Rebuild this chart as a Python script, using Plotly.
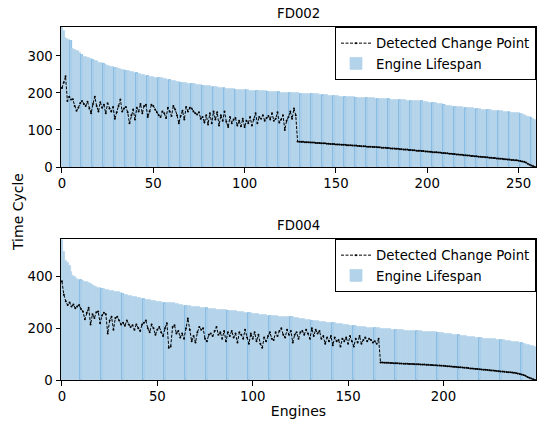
import plotly.graph_objects as go
from plotly.subplots import make_subplots

# ---------------- data ----------------
fd002_lifespan = [
    378, 367, 349, 345, 343, 341, 318, 316, 314, 312,
    308, 303, 298, 297, 295, 293, 291, 290, 287, 285,
    282, 281, 280, 278, 275, 273, 272, 270, 269, 268,
    267, 265, 264, 262, 261, 260, 259, 258, 257, 256,
    255, 254, 252, 250, 249, 248, 246, 245, 244, 243,
    242, 241, 240, 240, 239, 239, 238, 237, 235, 234,
    233, 232, 231, 230, 229, 228, 227, 227, 226, 225,
    225, 224, 223, 223, 222, 222, 221, 220, 219, 219,
    218, 218, 217, 217, 216, 215, 214, 213, 212, 212,
    211, 211, 210, 210, 210, 209, 209, 208, 208, 208,
    207, 207, 207, 206, 206, 206, 205, 205, 205, 205,
    204, 204, 204, 203, 203, 203, 202, 202, 202, 202,
    201, 201, 201, 200, 200, 200, 200, 199, 199, 199,
    198, 198, 198, 197, 197, 197, 197, 196, 196, 196,
    196, 195, 195, 195, 194, 194, 193, 193, 192, 192,
    191, 191, 190, 190, 190, 189, 189, 189, 188, 188,
    188, 187, 187, 187, 186, 186, 186, 186, 185, 185,
    185, 185, 184, 184, 184, 184, 184, 183, 183, 183,
    182, 182, 182, 181, 181, 181, 180, 180, 180, 179,
    179, 179, 178, 178, 178, 178, 177, 177, 176, 175,
    175, 174, 174, 173, 173, 172, 171, 170, 169, 168,
    167, 166, 165, 164, 163, 163, 162, 162, 161, 161,
    160, 160, 159, 159, 158, 158, 157, 157, 156, 156,
    155, 155, 154, 154, 153, 153, 152, 152, 151, 151,
    150, 150, 149, 149, 148, 148, 147, 147, 146, 146,
    145, 144, 142, 140, 138, 136, 134, 132, 130, 128,
]

fd002_change = [
    213, 228, 245, 178, 190, 182, 183, 165, 152, 160,
    172, 178, 170, 165, 176, 158, 145, 170, 190, 165,
    150, 175, 160, 168, 145, 172, 158, 150, 162, 130,
    148, 165, 182, 150, 158, 162, 148, 118, 140, 155,
    128, 160, 150, 170, 145, 165, 168, 135, 150, 168,
    165, 155, 148, 140, 135, 150, 145, 132, 160, 150,
    138, 165, 155, 140, 118, 138, 152, 128, 162, 150,
    160, 158, 150, 145, 142, 148, 130, 135, 120, 140,
    115, 145, 118, 150, 128, 148, 112, 140, 125, 150,
    122, 108, 135, 118, 128, 132, 112, 125, 110, 130,
    108, 125, 118, 135, 112, 128, 145, 118, 135, 130,
    140, 125, 132, 138, 128, 145, 125, 130, 148, 120,
    128, 140, 100, 125, 135, 150, 130, 158, 140,
    69, 68,
    68, 68, 67, 67, 67, 66, 66, 66, 65, 65,
    65, 64, 64, 64, 63, 63, 62, 62, 62, 61,
    61, 61, 60, 60, 60, 59, 59, 59, 58, 58,
    58, 57, 57, 56, 56, 56, 55, 55, 55, 54,
    54, 54, 53, 53, 52, 52, 52, 51, 51, 50,
    50, 50, 49, 49, 48, 48, 47, 47, 47, 46,
    46, 45, 45, 44, 44, 44, 43, 43, 42, 42,
    41, 41, 40, 40, 40, 39, 39, 38, 38, 37,
    37, 36, 36, 35, 35, 34, 34, 33, 33, 32,
    32, 31, 31, 30, 30, 29, 29, 28, 28, 27,
    27, 26, 26, 25, 25, 24, 24, 23, 23, 22,
    22, 21, 21, 20, 20, 19, 19, 18, 18, 17,
    16, 15, 14, 12, 9, 6, 4, 2, 0,
]

fd004_lifespan = [
    543, 494, 462, 453, 440, 417, 402, 399, 392, 388, 386,
    382, 380, 378, 376, 372, 368, 364, 360, 358, 356,
    354, 352, 350, 348, 346, 344, 343, 342, 341, 340,
    337, 334, 330, 328, 326, 324, 322, 321, 320, 318,
    316, 314, 312, 311, 310, 308, 306, 305, 304, 303,
    302, 301, 300, 300, 299, 299, 298, 298, 297, 296,
    294, 292, 290, 288, 287, 286, 285, 284, 283, 282,
    282, 281, 280, 279, 278, 277, 276, 275, 274, 274,
    273, 272, 272, 271, 270, 270, 269, 268, 268, 267,
    266, 265, 264, 263, 262, 261, 260, 259, 258, 257,
    256, 255, 254, 253, 252, 251, 250, 249, 249, 248,
    247, 246, 246, 245, 245, 244, 244, 243, 243, 243,
    243, 242, 241, 240, 238, 236, 235, 234, 232, 231,
    230, 229, 228, 227, 226, 225, 224, 223, 222, 221,
    221, 220, 219, 218, 217, 216, 215, 214, 213, 212,
    211, 210, 209, 208, 207, 206, 205, 204, 204, 203,
    203, 202, 202, 201, 201, 200, 199, 199, 198, 197,
    197, 196, 195, 195, 194, 193, 193, 192, 192, 191,
    191, 191, 190, 190, 189, 189, 188, 188, 187, 187,
    186, 186, 185, 185, 184, 184, 183, 183, 182, 181,
    180, 179, 178, 177, 176, 175, 174, 173, 172, 171,
    170, 169, 168, 167, 166, 165, 164, 163, 162, 161,
    160, 160, 159, 159, 158, 158, 157, 156, 155, 155,
    154, 153, 152, 151, 150, 149, 148, 147, 146, 145,
    143, 141, 139, 137, 135, 133, 130, 128,
]

fd004_change = [
    382, 330, 305, 290, 300, 285, 292, 278, 285, 290, 275,
    265, 235, 260, 280, 215, 255, 240, 262, 265, 220,
    250, 260, 255, 180, 230, 245, 195, 240, 245, 230,
    215, 222, 210, 230, 215, 205, 212, 195, 215, 200,
    190, 215, 222, 230, 200, 185, 215, 200, 175, 195,
    205, 185, 170, 200, 220, 125, 130, 205, 212, 180,
    190, 165, 180, 160, 200, 238, 195, 150, 170, 145,
    185, 205, 195, 200, 160, 150, 175, 180, 170, 190,
    205, 175, 185, 160, 190, 150, 185, 170, 190, 165,
    180, 145, 185, 175, 160, 195, 165, 140, 180, 160,
    185, 150, 175, 140, 125, 165, 150, 170, 185, 160,
    155, 185, 170, 190, 200, 175, 165, 195, 175, 190,
    145, 175, 185, 160, 185, 190, 175, 195, 180, 160,
    200, 170, 195, 180, 190, 160, 170, 140, 165, 150,
    170, 135, 165, 150, 155, 130, 160, 150, 165, 140,
    170, 150, 130, 160, 145, 170, 140, 155, 165, 150,
    160, 155, 145, 150, 140, 160,
    68, 68, 67, 67,
    67, 66, 66, 65, 65, 65, 64, 64, 63, 63,
    63, 62, 62, 62, 61, 61, 61, 60, 60, 60,
    59, 59, 58, 58, 57, 57, 56, 56, 55, 55,
    54, 53, 53, 52, 51, 51, 50, 49, 49, 48,
    47, 47, 46, 45, 45, 44, 43, 43, 42, 41,
    40, 40, 39, 38, 37, 37, 36, 35, 34, 33,
    33, 32, 31, 30, 30, 29, 28, 27, 25, 23,
    21, 19, 16, 12, 9, 6, 3, 0,
]

titles = ["FD002", "FD004"]
x_ticks_top = [0, 50, 100, 150, 200, 250]
x_ticks_bottom = [0, 50, 100, 150, 200]
y_ticks_top = [0, 100, 200, 300]
y_ticks_bottom = [0, 200, 400]

# ---------------- styling ----------------
FONT = "DejaVu Sans"
FS = 13.3
FS_LABEL = 14
BAR_FILL = "#b3d3ea"
BAR_EDGE = "#6aaadc"

fig = make_subplots(rows=2, cols=1, vertical_spacing=0.2)

def add_panel(row, life, change, edge_step, legend_name):
    n = len(life)
    xs = list(range(n))
    edge_colors = [BAR_EDGE if (i % edge_step == edge_step - 1) else BAR_FILL for i in xs]
    fig.add_trace(go.Bar(
        x=xs, y=life, width=1.0, name="Engine Lifespan",
        marker=dict(color=BAR_FILL, line=dict(color=edge_colors, width=0.7)),
        legend=legend_name, legendrank=2,
    ), row=row, col=1)
    fig.add_trace(go.Scatter(
        x=xs, y=change, name="Detected Change Point", mode="lines+markers",
        line=dict(color="black", width=1, dash="3px,1.5px"),
        marker=dict(color="black", size=2),
        legend=legend_name, legendrank=1,
    ), row=row, col=1)

add_panel(1, fd002_lifespan, fd002_change, 6, "legend")
add_panel(2, fd004_lifespan, fd004_change, 11, "legend2")

axis_common = dict(
    showline=True, linecolor="black", linewidth=1, mirror=True,
    ticks="outside", ticklen=4.5, tickwidth=1, tickcolor="black",
    showgrid=False, zeroline=False,
    tickfont=dict(family=FONT, size=FS, color="black"),
)

top_y0 = (380 - 167) / 353
bot_y1 = (380 - 239) / 353

fig.update_xaxes(**axis_common)
fig.update_yaxes(**axis_common)
fig.update_layout(
    xaxis=dict(range=[-0.5, len(fd002_lifespan) - 0.5], tickvals=x_ticks_top),
    xaxis2=dict(range=[-0.5, len(fd004_lifespan) - 0.5], tickvals=x_ticks_bottom,
                title=dict(text="Engines", font=dict(family=FONT, size=FS_LABEL, color="black"), standoff=2)),
    yaxis=dict(range=[0, 378], tickvals=y_ticks_top, domain=[top_y0, 1]),
    yaxis2=dict(range=[0, 546], tickvals=y_ticks_bottom, domain=[0, bot_y1]),
)

legend_common = dict(
    xanchor="right", x=1, yanchor="top",
    bgcolor="white", bordercolor="black", borderwidth=1,
    font=dict(family=FONT, size=13.3, color="black"),
    tracegroupgap=0, itemwidth=30,
)
fig.update_layout(
    legend=dict(y=1, **legend_common),
    legend2=dict(y=bot_y1, **legend_common),
)

fig.add_annotation(text=titles[0], xref="paper", yref="paper", x=0.5, y=1,
                   yanchor="bottom", yshift=4, showarrow=False,
                   font=dict(family=FONT, size=FS, color="black"))
fig.add_annotation(text=titles[1], xref="paper", yref="paper", x=0.5, y=bot_y1,
                   yanchor="bottom", yshift=4, showarrow=False,
                   font=dict(family=FONT, size=FS, color="black"))
fig.add_annotation(text="Time Cycle", xref="paper", yref="paper", x=0, y=(380 - 212) / 353,
                   xanchor="center", yanchor="middle", xshift=-43, textangle=-90,
                   showarrow=False, font=dict(family=FONT, size=FS_LABEL, color="black"))

fig.update_layout(
    width=537, height=424,
    margin=dict(l=61, r=1, t=27, b=44),
    paper_bgcolor="white", plot_bgcolor="white",
    bargap=0, barmode="overlay",
    font=dict(family=FONT, size=FS, color="black"),
    showlegend=True,
)

fig.write_html("out.html", config={"displayModeBar": False},
               post_script="document.body.style.margin='0';")
